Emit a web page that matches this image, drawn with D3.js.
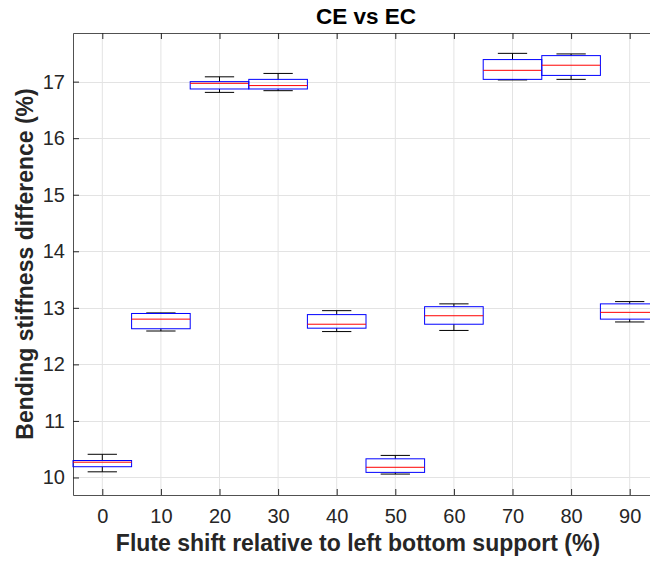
<!DOCTYPE html>
<html><head><meta charset="utf-8">
<script src="https://cdn.jsdelivr.net/npm/d3@7"></script>
<style>body{margin:0;background:#fff}svg{display:block}text{font-family:"Liberation Sans",Arial,sans-serif}</style>
</head><body><svg id="c" width="650" height="561"></svg>
<script>
const categories = [0,10,20,30,40,50,60,70,80,90];
const whiskerLow  = [10.10,12.59,16.81,16.84,12.58,10.06,12.60,17.03,17.04,12.75];
const q1          = [10.19,12.63,16.87,16.87,12.64,10.09,12.71,17.04,17.11,12.80];
const medians     = [10.27,12.80,16.97,16.93,12.71,10.18,12.86,17.20,17.29,12.92];
const q3          = [10.30,12.90,17.00,17.04,12.88,10.33,13.02,17.39,17.46,13.07];
const whiskerHigh = [10.41,12.91,17.085,17.145,12.95,10.39,13.07,17.50,17.49,13.11];
const yTicks = [10,11,12,13,14,15,16,17];
const title = "CE vs EC";
const xLabel = "Flute shift relative to left bottom support (%)";
const yLabel = "Bending stiffness difference (%)";

const svg = d3.select("#c");
const L=73, R=659, T=33, B=495;
const x = d3.scaleLinear().domain([-5,95]).range([L,R]);
const y = d3.scaleLinear().domain([9.69,17.86]).range([B,T]);
const axisCol="#262626";

// grid
const g = svg.append("g");
g.selectAll(".gx").data(categories).join("line")
  .attr("x1",d=>x(d)).attr("x2",d=>x(d)).attr("y1",T).attr("y2",B)
  .attr("stroke","#e3e3e3").attr("stroke-width",1);
g.selectAll(".gy").data(yTicks).join("line")
  .attr("x1",L).attr("x2",R).attr("y1",d=>Math.round(y(d))+0.5).attr("y2",d=>Math.round(y(d))+0.5)
  .attr("stroke","#e3e3e3").attr("stroke-width",1);

// axes
const xb = svg.append("g").attr("transform",`translate(0,${B})`)
  .call(d3.axisBottom(x).tickValues(categories).tickSizeInner(-6).tickSizeOuter(0).tickPadding(14));
const xt = svg.append("g").attr("transform",`translate(0,${T})`)
  .call(d3.axisTop(x).tickValues(categories).tickSizeInner(-6).tickSizeOuter(0).tickFormat(""));
const yl = svg.append("g").attr("transform",`translate(${L},0)`)
  .call(d3.axisLeft(y).tickValues(yTicks).tickSizeInner(-6).tickSizeOuter(0).tickPadding(8));
[xb,xt,yl].forEach(a=>{
  a.select(".domain").attr("stroke",axisCol).attr("stroke-opacity",0.8);
  a.selectAll(".tick line").attr("stroke",axisCol);
  a.selectAll("text").attr("font-size",20).attr("fill",axisCol);
});

// boxes
const data = categories.map((c,i)=>({c,lo:whiskerLow[i],q1:q1[i],md:medians[i],q3:q3[i],hi:whiskerHigh[i]}));
const bw = 5, cw = 2.5;
const bx = svg.append("g").selectAll("g").data(data).join("g");
bx.append("line").attr("x1",d=>x(d.c)).attr("x2",d=>x(d.c)).attr("y1",d=>y(d.hi)).attr("y2",d=>y(d.q3)).attr("stroke","#000");
bx.append("line").attr("x1",d=>x(d.c)).attr("x2",d=>x(d.c)).attr("y1",d=>y(d.q1)).attr("y2",d=>y(d.lo)).attr("stroke","#000");
bx.append("line").attr("x1",d=>x(d.c-cw)).attr("x2",d=>x(d.c+cw)).attr("y1",d=>y(d.hi)).attr("y2",d=>y(d.hi)).attr("stroke","#000");
bx.append("line").attr("x1",d=>x(d.c-cw)).attr("x2",d=>x(d.c+cw)).attr("y1",d=>y(d.lo)).attr("y2",d=>y(d.lo)).attr("stroke","#000");
bx.append("rect").attr("x",d=>x(d.c-bw)).attr("width",d=>x(d.c+bw)-x(d.c-bw))
  .attr("y",d=>y(d.q3)).attr("height",d=>y(d.q1)-y(d.q3))
  .attr("fill","none").attr("stroke","#0000ff").attr("stroke-width",1);
bx.append("line").attr("x1",d=>x(d.c-bw)).attr("x2",d=>x(d.c+bw)).attr("y1",d=>y(d.md)).attr("y2",d=>y(d.md)).attr("stroke","#ff0000");

// labels
svg.append("text").attr("x",(L+R)/2).attr("y",24).attr("text-anchor","middle")
  .attr("font-size",22.5).attr("font-weight","bold").attr("fill","#000").text(title);
svg.append("text").attr("x",358).attr("y",551).attr("text-anchor","middle")
  .attr("font-size",23).attr("font-weight","bold").attr("fill",axisCol).text(xLabel);
svg.append("text").attr("transform",`translate(33,${(T+B)/2}) rotate(-90)`).attr("text-anchor","middle")
  .attr("font-size",23).attr("font-weight","bold").attr("fill",axisCol).text(yLabel);
</script></body></html>
